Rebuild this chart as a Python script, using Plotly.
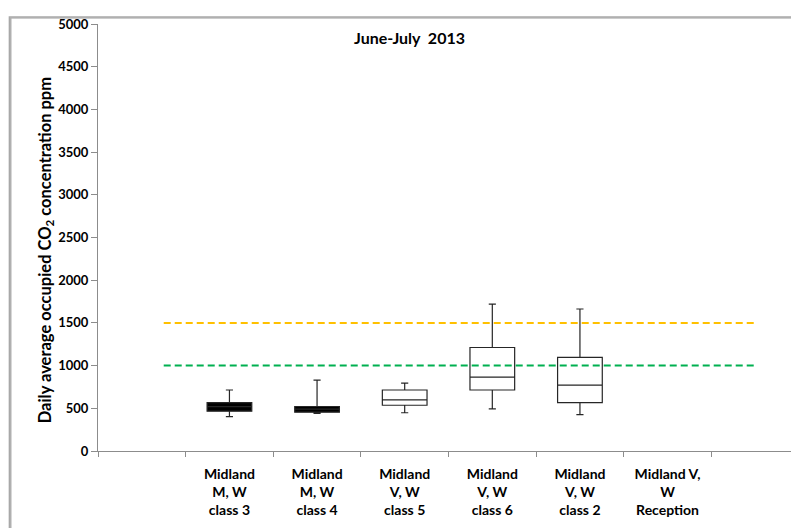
import plotly.graph_objects as go

# ---- data ----
categories = ["", "Midland<br>M, W<br>class 3", "Midland<br>M, W<br>class 4",
              "Midland<br>V, W<br>class 5", "Midland<br>V, W<br>class 6",
              "Midland<br>V, W<br>class 2", "Midland V,<br>W<br>Reception", ""]
box_names = ["class 3", "class 4", "class 5", "class 6", "class 2"]
box_pos = [1, 2, 3, 4, 5]          # category index
q1 = [466, 455, 536, 714, 567]
median = [520, 490, 598, 865, 772]
q3 = [567, 521, 714, 1212, 1096]
lower = [402, 440, 448, 494, 425]
upper = [714, 830, 795, 1721, 1663]
fills = ["black", "black", "white", "white", "white"]
thresholds = [1500, 1000]
threshold_colors = ["#FFC000", "#00B050"]
threshold_span = [0.75, 7.5]
y_ticks = list(range(0, 5001, 500))

FONT = "Lato"
fig = go.Figure()
for i in range(len(box_names)):
    fig.add_trace(go.Box(
        x=[box_pos[i] + 0.5], q1=[q1[i]], median=[median[i]], q3=[q3[i]],
        lowerfence=[lower[i]], upperfence=[upper[i]],
        width=0.51, whiskerwidth=0.16, fillcolor=fills[i],
        line=dict(color="#262626", width=1.2), name=box_names[i],
        showlegend=False, boxpoints=False))

for v, c in zip(thresholds, threshold_colors):
    fig.add_shape(type="line", xref="x", yref="y", x0=threshold_span[0], x1=threshold_span[1],
                  y0=v, y1=v, line=dict(color=c, width=2, dash="7px,4px"))

# chart border
fig.add_shape(type="rect", xref="paper", yref="paper", x0=-0.126, x1=1.03, y0=-0.25, y1=1.016,
              line=dict(color="#a8a8a8", width=2))
fig.add_annotation(text=" ", xref="paper", yref="paper", x=-0.126, y=1.016,
                   xanchor="left", yanchor="top", showarrow=False, width=830, height=560,
                   bordercolor="#b0b0b0", borderwidth=1.5, borderpad=0,
                   bgcolor="rgba(0,0,0,0)")

fig.add_annotation(text="<b>June-July\u00a0 2013</b>", xref="paper", yref="paper",
                   x=0.444, y=0.9676, yanchor="middle", showarrow=False,
                   font=dict(family=FONT, size=16, color="black"))

fig.add_annotation(text="<b>Daily average occupied CO<sub>2</sub> concentration ppm</b>",
                   xref="paper", yref="paper", x=-0.0756, y=0.47, textangle=-90,
                   xanchor="center", yanchor="middle", showarrow=False,
                   font=dict(family=FONT, size=16.5, color="black"))

label_idx = [i for i, c in enumerate(categories) if c]

fig.update_layout(
    width=799, height=528, margin=dict(l=90, r=8, t=11, b=85),
    paper_bgcolor="white", plot_bgcolor="white",
    font=dict(family=FONT, color="black"),
    xaxis=dict(range=[0, 8], tickvals=[i + 0.5 for i in label_idx],
               ticktext=["<b>" + categories[i] + "</b>" for i in label_idx],
               ticks="", showgrid=False, zeroline=False, showline=True, linecolor="#8c8c8c",
               linewidth=1.2, tickfont=dict(family=FONT, size=14, color="black"),
               ticklabelstandoff=10,
               minor=dict(tick0=0, dtick=1, ticks="outside", ticklen=5, tickcolor="#8c8c8c",
                          tickwidth=1.2, showgrid=False)),
    yaxis=dict(range=[0, 5000], tickvals=y_ticks, ticktext=["<b>%d</b>" % t for t in y_ticks],
               ticks="outside", ticklen=6, tickcolor="#8c8c8c", tickwidth=1.2,
               showgrid=False, zeroline=False, showline=True, linecolor="#8c8c8c", linewidth=1.2,
               tickfont=dict(family=FONT, size=13, color="black")),
)
fig.write_html("out.html")
